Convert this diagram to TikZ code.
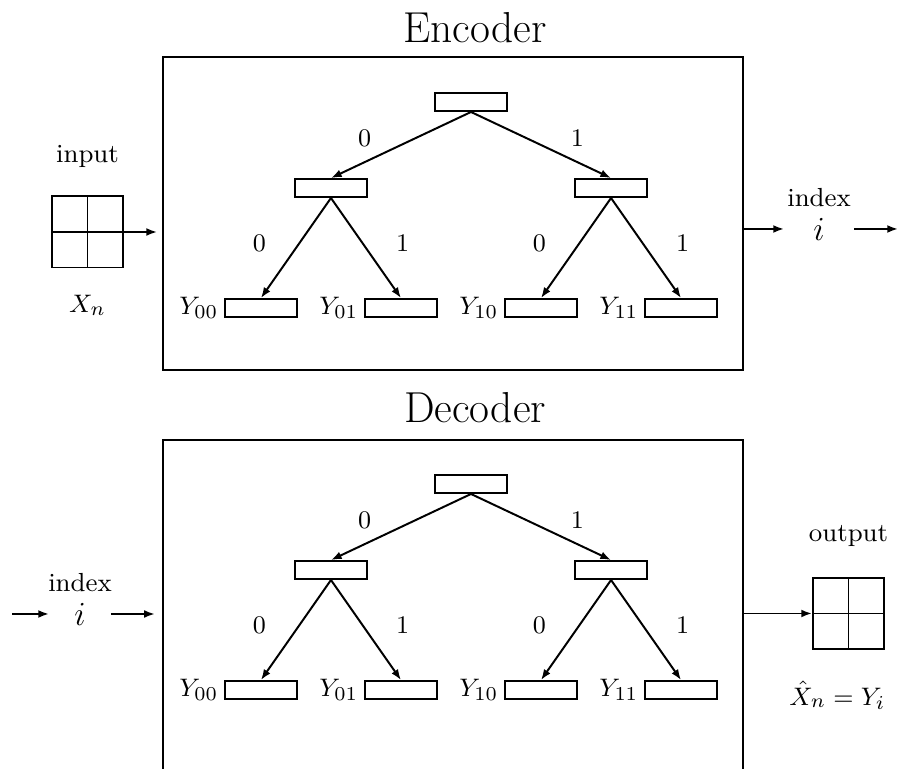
\documentclass[tikz,border=0pt]{standalone}
\usepackage{amsmath}
\usepackage{tikz}
\usetikzlibrary{positioning,arrows.meta}

\begin{document}
\begin{tikzpicture}[x=0.0125cm, y=-0.0125cm, -{Latex[length=3.8pt,width=2.8pt]}, line width=0.7pt,
		font=\fontsize{9.3}{11}\selectfont, label distance=-1.5pt,
		cell/.style ={rectangle, draw, on grid, minimum width=0.89cm, minimum height=0.225cm, inner sep=0pt},
		coder/.style ={rectangle, draw, line width=0.95pt, minimum width=7.25cm, inner sep=0pt},
		block/.style ={rectangle, draw, minimum size=0.8875cm, inner sep=0pt,
			path picture={\draw[-] (path picture bounding box.north) -- (path picture bounding box.south)
				(path picture bounding box.west) -- (path picture bounding box.east);}},
		title/.style ={font=\fontsize{15.4}{18}\selectfont},
		idx/.style ={font=\fontsize{12}{14}\selectfont, inner sep=0pt}]
		\useasboundingbox (0,0) rectangle (898,769);
		% encoder
		\node[title] (etitle) at (475,28) {Encoder};
		\node[coder, minimum height=3.9125cm] (enc) at (453,213.5) {};
		\node[cell] (eroot) at (471,102) {};
		\node[cell] (e0) [below left =1.075cm and 1.75cm of eroot] {};
		\node[cell] (e1) [below right =1.075cm and 1.75cm of eroot] {};
		\node[cell, label=left:$Y_{00}$] (e00) [below left =1.5cm and 0.875cm of e0] {};
		\node[cell, label=left:$Y_{01}$] (e01) [below right =1.5cm and 0.875cm of e0] {};
		\node[cell, label=left:$Y_{10}$] (e10) [below left =1.5cm and 0.875cm of e1] {};
		\node[cell, label=left:$Y_{11}$] (e11) [below right =1.5cm and 0.875cm of e1] {};
		\path (eroot.south) edge node[pos=0.4, left=0.42cm] {$0$} (e0.north); % root to 0
		\path (eroot.south) edge node[pos=0.4, right=0.42cm] {$1$} (e1.north); % root to 1
		\path (e0.south) edge node[pos=0.45, left=0.29cm] {$0$} (e00.north); % 0 to 00
		\path (e0.south) edge node[pos=0.45, right=0.29cm] {$1$} (e01.north); % 0 to 01
		\path (e1.south) edge node[pos=0.45, left=0.29cm] {$0$} (e10.north); % 1 to 10
		\path (e1.south) edge node[pos=0.45, right=0.29cm] {$1$} (e11.north); % 1 to 11
		\node[block] (xin) at (87.5,232) {};
		\node (inlabel) [above=0.22cm of xin] {input};
		\node (xlabel) [below=0.21cm of xin] {$X_n$};
		\node[idx, minimum width=0.85cm] (ei) at (819,229) {$i$};
		\node (eindex) [above=0pt of ei] {index};
		\coordinate (eout) at (898,229);
		\draw[shorten >=1.6pt] (xin) -- (xin -| enc.west);
		\draw (ei -| enc.east) -- (ei);
		\draw (ei) -- (eout);
		% decoder
		\node[title] (dtitle) at (475,408) {Decoder};
		\node[coder, minimum height=4.15cm] (dec) at (453,606) {};
		\node[cell] (droot) at (471,484) {};
		\node[cell] (d0) [below left =1.075cm and 1.75cm of droot] {};
		\node[cell] (d1) [below right =1.075cm and 1.75cm of droot] {};
		\node[cell, label=left:$Y_{00}$] (d00) [below left =1.5cm and 0.875cm of d0] {};
		\node[cell, label=left:$Y_{01}$] (d01) [below right =1.5cm and 0.875cm of d0] {};
		\node[cell, label=left:$Y_{10}$] (d10) [below left =1.5cm and 0.875cm of d1] {};
		\node[cell, label=left:$Y_{11}$] (d11) [below right =1.5cm and 0.875cm of d1] {};
		\path (droot.south) edge node[pos=0.4, left=0.42cm] {$0$} (d0.north); % root to 0
		\path (droot.south) edge node[pos=0.4, right=0.42cm] {$1$} (d1.north); % root to 1
		\path (d0.south) edge node[pos=0.45, left=0.29cm] {$0$} (d00.north); % 0 to 00
		\path (d0.south) edge node[pos=0.45, right=0.29cm] {$1$} (d01.north); % 0 to 01
		\path (d1.south) edge node[pos=0.45, left=0.29cm] {$0$} (d10.north); % 1 to 10
		\path (d1.south) edge node[pos=0.45, right=0.29cm] {$1$} (d11.north); % 1 to 11
		\coordinate (din) at (12,614);
		\node[idx, minimum width=0.75cm] (di) at (80,614) {$i$};
		\node (dindex) [above=0pt of di] {index};
		\node[block] (yout) at (848.5,613.5) {};
		\node (outlabel) [above=0.25cm of yout] {output};
		\node (ylabel) [below=0.26cm of yout, xshift=-0.14cm] {$\hat{X}_n = Y_i$};
		\draw (din) -- (di);
		\draw[shorten >=2.4pt] (di) -- (di -| dec.west);
		\draw (yout -| dec.east) -- (yout);
\end{tikzpicture}
\end{document}
